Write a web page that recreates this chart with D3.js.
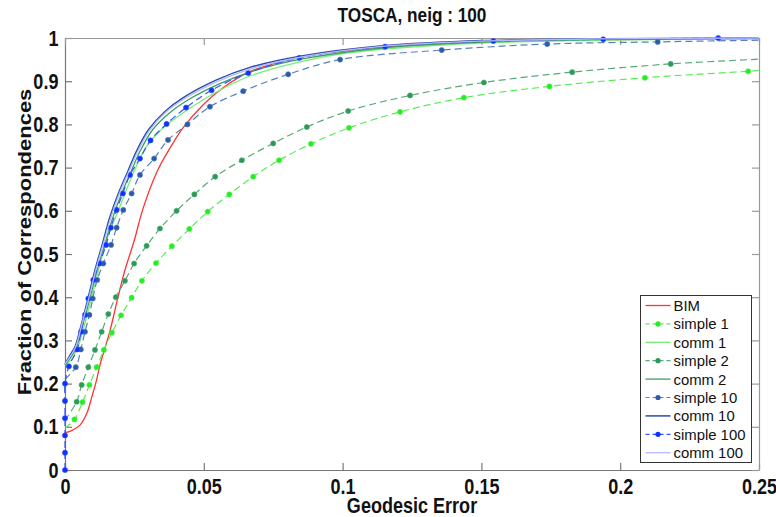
<!DOCTYPE html>
<html lang="en">
<head>
<meta charset="UTF-8">
<title>TOSCA, neig : 100</title>
<script src="https://d3js.org/d3.v7.min.js"></script>
<style>
  body { margin: 0; background: #fff; }
  svg { display: block; }
  text { font-family: "Liberation Sans", Arial, Helvetica, sans-serif; }
</style>
</head>
<body>
<svg id="chart" width="776" height="517"></svg>
<script>
// tick values
const xTicks = [0, 0.05, 0.1, 0.15, 0.2, 0.25];
const yTicks = [0, 0.1, 0.2, 0.3, 0.4, 0.5, 0.6, 0.7, 0.8, 0.9, 1];

// curves: [geodesic error, fraction]
const bim = [[0,0.086],[0.0029,0.093],[0.0054,0.104],[0.0079,0.132],[0.0097,0.17],[0.0112,0.204],[0.0126,0.243],[0.014,0.274],[0.0162,0.322],[0.0191,0.40],[0.0216,0.463],[0.0249,0.53],[0.0281,0.605],[0.0331,0.69],[0.0378,0.745],[0.0425,0.792],[0.0497,0.845],[0.0566,0.883],[0.0666,0.922],[0.0847,0.955],[0.1027,0.972],[0.1387,0.988],[0.1747,0.994],[0.25,0.999]];
const simple1 = [[0,0.097],[0.0034,0.117],[0.0063,0.157],[0.0088,0.197],[0.0114,0.238],[0.014,0.278],[0.0169,0.318],[0.0202,0.358],[0.024,0.399],[0.0277,0.438],[0.0328,0.479],[0.0385,0.518],[0.0448,0.558],[0.0514,0.598],[0.0592,0.638],[0.0678,0.679],[0.0771,0.717],[0.0886,0.755],[0.1023,0.792],[0.1207,0.829],[0.1437,0.862],[0.1745,0.888],[0.2089,0.908],[0.2461,0.923],[0.25,0.925]];
const comm1 = [[0,0.243],[0.0022,0.255],[0.0047,0.285],[0.0076,0.35],[0.0108,0.43],[0.015,0.532],[0.0198,0.61],[0.0246,0.687],[0.029,0.745],[0.035,0.79],[0.0426,0.827],[0.0546,0.875],[0.0666,0.912],[0.0847,0.945],[0.1027,0.966],[0.1387,0.985],[0.1747,0.993],[0.25,0.998]];
const simple2 = [[0,0.115],[0.0042,0.158],[0.006,0.197],[0.0084,0.238],[0.0108,0.278],[0.0132,0.32],[0.0156,0.361],[0.0183,0.40],[0.0216,0.438],[0.0249,0.478],[0.0294,0.519],[0.0342,0.559],[0.0402,0.60],[0.0466,0.638],[0.0541,0.679],[0.0637,0.717],[0.075,0.756],[0.0871,0.794],[0.102,0.831],[0.1243,0.867],[0.1509,0.897],[0.1827,0.921],[0.2182,0.94],[0.25,0.951]];
const comm2 = [[0,0.243],[0.0022,0.262],[0.004,0.282],[0.0066,0.34],[0.0091,0.40],[0.0116,0.463],[0.0141,0.517],[0.0173,0.586],[0.0204,0.64],[0.024,0.694],[0.0272,0.74],[0.0315,0.787],[0.0375,0.826],[0.0441,0.856],[0.056,0.895],[0.068,0.924],[0.086,0.952],[0.116,0.978],[0.152,0.991],[0.194,0.997],[0.25,0.999]];
const simple10 = [[0,0.21],[0.0039,0.238],[0.0057,0.279],[0.0072,0.32],[0.0088,0.359],[0.01,0.397],[0.0116,0.44],[0.0138,0.478],[0.0166,0.521],[0.0186,0.561],[0.021,0.602],[0.024,0.64],[0.027,0.683],[0.0321,0.721],[0.0371,0.764],[0.0441,0.80],[0.0522,0.841],[0.0642,0.877],[0.0804,0.916],[0.0991,0.95],[0.1357,0.972],[0.1737,0.986],[0.2135,0.991],[0.25,0.995]];
const comm10 = [[0,0.245],[0.0018,0.266],[0.0036,0.285],[0.006,0.34],[0.0084,0.40],[0.0108,0.463],[0.0132,0.517],[0.0162,0.586],[0.0192,0.64],[0.0228,0.694],[0.0259,0.74],[0.03,0.787],[0.036,0.83],[0.0426,0.862],[0.0546,0.903],[0.0666,0.932],[0.0847,0.958],[0.1146,0.982],[0.1506,0.994],[0.1927,0.998],[0.25,1.0]];
const simple100 = [[0,0],[0,0.04],[0,0.08],[0,0.12],[0,0.16],[0,0.2],[0.0014,0.24],[0.0044,0.279],[0.0058,0.32],[0.0072,0.359],[0.0084,0.397],[0.0102,0.44],[0.0124,0.478],[0.0148,0.521],[0.0165,0.561],[0.0186,0.602],[0.0208,0.64],[0.0234,0.683],[0.027,0.721],[0.0308,0.763],[0.0366,0.801],[0.0436,0.839],[0.0528,0.879],[0.066,0.919],[0.0844,0.954],[0.1153,0.98],[0.1543,0.993],[0.1939,0.997],[0.2353,1.0],[0.25,1.0]];
const comm100 = [[0,0.245],[0.002,0.264],[0.0038,0.284],[0.0062,0.34],[0.0087,0.40],[0.0111,0.463],[0.0135,0.517],[0.0166,0.586],[0.0196,0.64],[0.0232,0.694],[0.0264,0.74],[0.0305,0.787],[0.0366,0.83],[0.0432,0.86],[0.0552,0.9],[0.0672,0.929],[0.0853,0.956],[0.1152,0.981],[0.1512,0.993],[0.1933,0.998],[0.25,1.0]];

const series = [
  {name: "BIM",        data: bim,       color: "#ff3333", dash: null,  w: 1.3},
  {name: "simple 1",   data: simple1,   color: "#55ee55", dot: "#22ee22", dash: "7,4", w: 1.2, from: 1, to: 1},
  {name: "comm 1",     data: comm1,     color: "#77ee77", dash: null,  w: 1.3},
  {name: "simple 2",   data: simple2,   color: "#55aa77", dot: "#2a9a5a", dash: "7,4", w: 1.2, from: 1, to: 1},
  {name: "comm 2",     data: comm2,     color: "#3aa060", dash: null,  w: 1.3},
  {name: "simple 10",  data: simple10,  color: "#5580c0", dot: "#2a5aa8", dash: "7,4", w: 1.2, from: 1, to: 1},
  {name: "comm 10",    data: comm10,    color: "#2a4caa", dash: null,  w: 1.5},
  {name: "simple 100", data: simple100, color: "#3355ff", dot: "#1030ff", dash: "7,4", w: 1.2, from: 0, to: 1},
  {name: "comm 100",   data: comm100,   color: "#b4b8ff", dash: null,  w: 1.3}
];

const svg = d3.select("#chart");
const margin = {top: 38, right: 17, bottom: 47, left: 65};
const width = +svg.attr("width") - margin.left - margin.right;
const height = +svg.attr("height") - margin.top - margin.bottom;
const squash = 0.82; // text in the picture is horizontally compressed
const g = svg.append("g").attr("transform", `translate(${margin.left},${margin.top})`);

const x = d3.scaleLinear().domain([0, 0.25]).range([0, width]);
const y = d3.scaleLinear().domain([0, 1]).range([height, 0]);
const fmt = d3.format("~g");

// axes box with inward ticks on all four sides
function styleAxis(sel, color) {
  sel.select(".domain").attr("stroke", color).attr("stroke-width", 1.2);
  sel.selectAll(".tick line").attr("stroke", color).attr("stroke-width", 1.2);
  sel.selectAll(".tick text")
    .attr("font-size", 22).attr("font-weight", "bold").attr("fill", "#111")
    .attr("transform", `scale(${squash},1)`);
}

g.append("g").attr("transform", `translate(0,${height})`)
  .call(d3.axisBottom(x).tickValues(xTicks).tickFormat(fmt).tickSizeInner(-7).tickSizeOuter(0).tickPadding(8))
  .call(s => styleAxis(s, "#777"));
g.append("g")
  .call(d3.axisLeft(y).tickValues(yTicks).tickFormat(fmt).tickSizeInner(-7).tickSizeOuter(0).tickPadding(8))
  .call(s => styleAxis(s, "#777"));
g.append("g")
  .call(d3.axisTop(x).tickValues(xTicks).tickFormat("").tickSizeInner(-7).tickSizeOuter(0))
  .call(s => styleAxis(s, "#999"));
g.append("g").attr("transform", `translate(${width},0)`)
  .call(d3.axisRight(y).tickValues(yTicks).tickFormat("").tickSizeInner(-7).tickSizeOuter(0))
  .call(s => styleAxis(s, "#999"));

// curves
const line = d3.line()
  .x(d => x(d[0]))
  .y(d => y(d[1]))
  .curve(d3.curveCatmullRom.alpha(0.5));

series.forEach(s => {
  g.append("path")
    .datum(s.data)
    .attr("fill", "none")
    .attr("stroke", s.color)
    .attr("stroke-width", s.w)
    .attr("stroke-dasharray", s.dash)
    .attr("d", line);
  if (s.dot) {
    const pts = s.data.slice(s.from, s.data.length - s.to);
    g.selectAll(null)
      .data(pts)
      .enter().append("circle")
      .attr("cx", d => x(d[0]))
      .attr("cy", d => y(d[1]))
      .attr("r", 2.6)
      .attr("fill", s.dot)
      .attr("stroke", s.color)
      .attr("stroke-width", 0.6);
  }
});

// title and axis labels
svg.append("text")
  .attr("transform", `translate(${margin.left + width / 2},22) scale(${squash},1)`)
  .attr("text-anchor", "middle")
  .attr("font-size", 21).attr("font-weight", "bold").attr("fill", "#111")
  .text("TOSCA, neig : 100");

svg.append("text")
  .attr("transform", `translate(${margin.left + width / 2},513) scale(${squash},1)`)
  .attr("text-anchor", "middle")
  .attr("font-size", 22).attr("font-weight", "bold").attr("fill", "#111")
  .text("Geodesic Error");

svg.append("text")
  .attr("transform", `translate(31,242) rotate(-90) scale(1,${squash})`)
  .attr("text-anchor", "middle")
  .attr("font-size", 22).attr("font-weight", "bold").attr("fill", "#111")
  .text("Fraction of Correspondences");

// legend
const lg = svg.append("g").attr("transform", "translate(640.5,295.5)");
lg.append("rect")
  .attr("width", 111).attr("height", 167)
  .attr("fill", "#fff").attr("stroke", "#333").attr("stroke-width", 1);

const item = lg.selectAll(".item")
  .data(series)
  .enter().append("g")
  .attr("class", "item")
  .attr("transform", (d, i) => `translate(0,${10 + i * 18.4})`);

item.append("line")
  .attr("x1", 5).attr("x2", 30)
  .attr("stroke", d => d.color)
  .attr("stroke-width", d => d.w)
  .attr("stroke-dasharray", d => d.dash ? "4,3" : null);

item.filter(d => d.dot).append("circle")
  .attr("cx", 17.5).attr("r", 2.6)
  .attr("fill", d => d.dot);

item.append("text")
  .attr("transform", `translate(33,5.5) scale(0.96,1)`)
  .attr("font-size", 15.5).attr("fill", "#111")
  .text(d => d.name);
</script>
</body>
</html>
